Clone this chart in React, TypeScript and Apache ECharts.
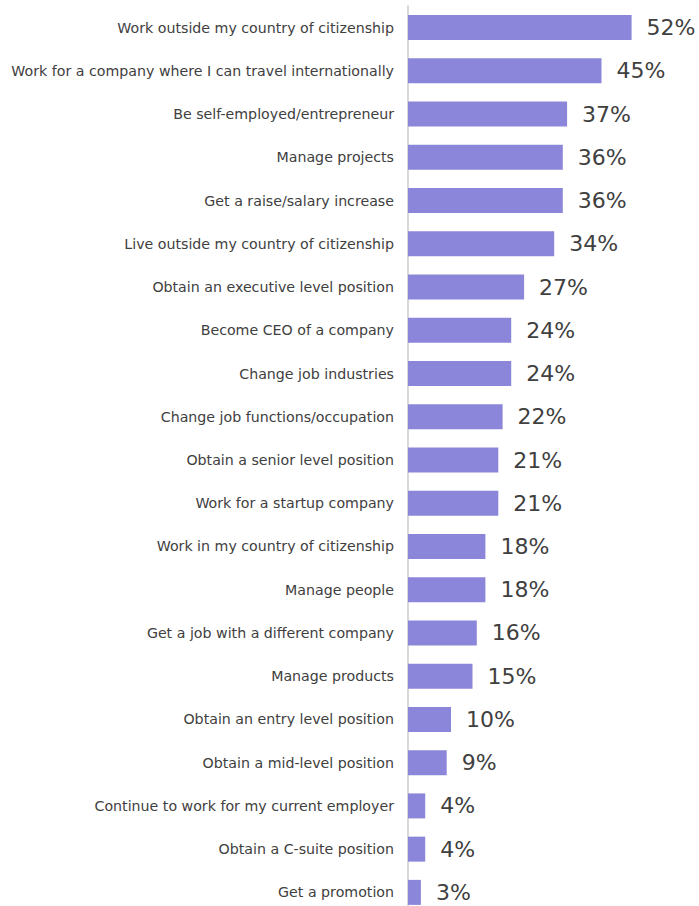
import React, { useEffect, useRef } from "react";
import * as echarts from "echarts";

const categories = [
  "Work outside my country of citizenship",
  "Work for a company where I can travel internationally",
  "Be self-employed/entrepreneur",
  "Manage projects",
  "Get a raise/salary increase",
  "Live outside my country of citizenship",
  "Obtain an executive level position",
  "Become CEO of a company",
  "Change job industries",
  "Change job functions/occupation",
  "Obtain a senior level position",
  "Work for a startup company",
  "Work in my country of citizenship",
  "Manage people",
  "Get a job with a different company",
  "Manage products",
  "Obtain an entry level position",
  "Obtain a mid-level position",
  "Continue to work for my current employer",
  "Obtain a C-suite position",
  "Get a promotion",
];
const values = [52, 45, 37, 36, 36, 34, 27, 24, 24, 22, 21, 21, 18, 18, 16, 15, 10, 9, 4, 4, 3];

export default function App() {
  const ref = useRef<HTMLDivElement>(null);
  useEffect(() => {
    if (!ref.current) return;
    const chart = echarts.init(ref.current, null, { renderer: "svg" });
    chart.setOption({
      animation: false,
      grid: { left: 408, width: 258, top: 6, height: 908, containLabel: false },
      xAxis: {
        type: "value",
        min: 0,
        max: 60,
        show: false,
      },
      yAxis: {
        type: "category",
        inverse: true,
        data: categories,
        axisLine: { show: true, lineStyle: { color: "#d9d9d9", width: 2 } },
        axisTick: { show: false },
        axisLabel: {
          margin: 14,
          color: "#404040",
          fontFamily: "DejaVu Sans",
          fontSize: 14.2,
        },
      },
      series: [
        {
          type: "bar",
          data: values,
          barWidth: 25,
          itemStyle: { color: "#8b86d9" },
          label: {
            show: true,
            position: "right",
            distance: 15,
            formatter: "{c}%",
            color: "#404040",
            fontFamily: "DejaVu Sans",
            fontSize: 22,
          },
        },
      ],
    });
    return () => chart.dispose();
  }, []);
  return (
    <div style={{ position: "fixed", left: 0, top: 0, width: 699, height: 906, overflow: "hidden", background: "#fff" }}>
      <div ref={ref} style={{ width: 699, height: 920 }} />
    </div>
  );
}
